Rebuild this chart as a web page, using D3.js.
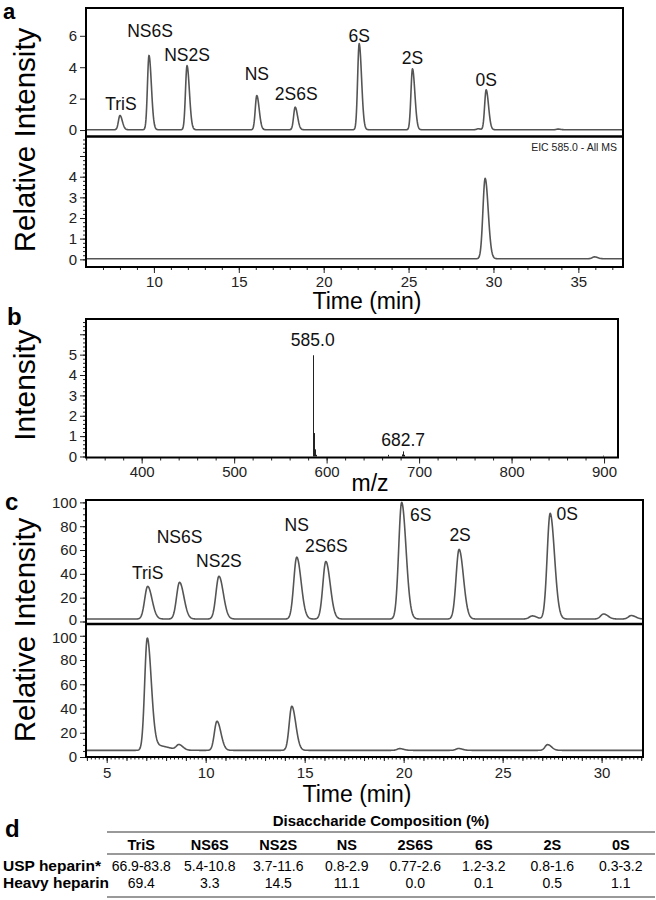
<!DOCTYPE html>
<html>
<head>
<meta charset="utf-8">
<script src="https://cdn.jsdelivr.net/npm/d3@7"></script>
<style>
  body { margin: 0; background: #fff; }
  svg { display: block; font-family: "Liberation Sans", Arial, sans-serif; }
  .axis path { display: none; }
  .axis line { stroke: #222; stroke-width: 1; }
  .axis text { font-size: 15px; fill: #222; }
  .trace { fill: none; stroke: #555; stroke-width: 1.6; stroke-linejoin: round; }
  .frame { fill: none; stroke: #000; stroke-width: 2; }
</style>
</head>
<body>
<svg id="chart" width="656" height="900"></svg>
<script>
// panel a, top: standard mix, peaks as [time (min), height]
var aStdPeaks = [[8.0, 0.93], [9.71, 4.75], [11.95, 4.1], [16.06, 2.2], [18.32, 1.46],
  [22.09, 5.5], [25.23, 3.9], [29.1, 0.08], [29.57, 2.56], [33.8, 0.06]];
var aStdNames = ['TriS', 'NS6S', 'NS2S', 'NS', '2S6S', '6S', '2S', '0S'];
var aStdNamed = [0, 1, 2, 3, 4, 5, 6, 8]; // which peak each name belongs to
// panel a, bottom: EIC 585.0
var aEicPeaks = [[29.51, 3.92], [35.95, 0.12]];

// panel b: mass spectrum, [m/z, intensity]
var bSpectrum = [[585.0, 4.97], [586.0, 1.15], [587.0, 0.35], [588.0, 0.08],
  [666.0, 0.08], [681.7, 0.1], [682.7, 0.25], [683.7, 0.08], [899.0, 0.04]];
var bLabels = [[585.0, '585.0'], [682.7, '682.7']];

// panel c, top: standard mix (relative intensity %)
var cStdPeaks = [[7.07, 29.5], [8.68, 32.9], [10.67, 38], [14.6, 54], [16.07, 50.4],
  [19.9, 100], [22.8, 60.6], [26.5, 4.7], [27.4, 90.8], [30.1, 6.3], [31.5, 5]];
var cStdNames = ['TriS', 'NS6S', 'NS2S', 'NS', '2S6S', '6S', '2S', '0S'];
var cStdNamed = [0, 1, 2, 3, 4, 5, 6, 8];
// panel c, bottom: heavy heparin
var cHeavyPeaks = [[7.05, 97.8], [7.5, 9.5, 0.2, 0.6], [8.65, 9.7], [10.57, 29.5],
  [14.35, 41.9], [19.8, 6.9], [22.77, 7], [27.27, 10.2]];

// panel d: disaccharide composition table
var compCategories = ['TriS', 'NS6S', 'NS2S', 'NS', '2S6S', '6S', '2S', '0S'];
var uspRange = ['66.9-83.8', '5.4-10.8', '3.7-11.6', '0.8-2.9', '0.77-2.6', '1.2-3.2', '0.8-1.6', '0.3-3.2'];
var heavyValues = [69.4, 3.3, 14.5, 11.1, 0.0, 0.1, 0.5, 1.1];

var svg = d3.select('#chart');

// build a chromatogram trace from a peak table (slightly tailing peaks)
function trace(peaks, base, sL, sR, t0, t1) {
  return d3.range(t0, t1, 0.02).map(function(t) {
    var v = base;
    peaks.forEach(function(p) {
      var s = t < p[0] ? (p[2] || sL) : (p[3] || sR);
      var d = (t - p[0]) / s;
      v += (p[1] - base) * Math.exp(-0.5 * d * d);
    });
    return [t, v];
  });
}

function drawTrace(data, x, y) {
  var line = d3.line().x(function(d) { return x(d[0]); }).y(function(d) { return y(d[1]); });
  svg.append('path').attr('class', 'trace').attr('d', line(data));
}

function axis(gen, tx, ty) {
  return svg.append('g').attr('class', 'axis').attr('transform', 'translate(' + tx + ',' + ty + ')').call(gen);
}

function blank() { return ''; }

function peakLabels(peaks, named, names, offsets, x, y) {
  svg.selectAll(null).data(names).enter().append('text')
    .attr('x', function(d, i) { return x(peaks[named[i]][0]) + offsets[i][0]; })
    .attr('y', function(d, i) { return y(peaks[named[i]][1]) + offsets[i][1]; })
    .attr('text-anchor', 'middle')
    .style('font-size', '17.5px')
    .attr('fill', '#111')
    .text(function(d) { return d; });
}

// ---------- panel a ----------
var xA = d3.scaleLinear().domain([6, 37.63]).range([86, 623]);
var yA1 = d3.scaleLinear().domain([-0.38, 7.77]).range([136, 8]);
var yA2 = d3.scaleLinear().domain([-0.37, 5.92]).range([267, 137]);

drawTrace(trace(aStdPeaks, 0.02, 0.09, 0.14, 6.05, 37.6), xA, yA1);
drawTrace(trace(aEicPeaks, 0.03, 0.13, 0.18, 6.05, 37.6), xA, yA2);

axis(d3.axisLeft(yA1).tickValues([0, 2, 4, 6]).tickSize(6).tickPadding(3), 86, 0);
axis(d3.axisLeft(yA2).tickValues(d3.range(0, 5.9, 0.2)).tickSize(3).tickFormat(blank), 86, 0);
axis(d3.axisLeft(yA2).tickValues([0, 1, 2, 3, 4, 5]).tickSize(6).tickPadding(3)
  .tickFormat(function(d) { return d < 5 ? d : ''; }), 86, 0);
axis(d3.axisBottom(xA).tickValues(d3.range(7, 38, 1)).tickSize(3).tickFormat(blank), 0, 267);
axis(d3.axisBottom(xA).tickValues([10, 15, 20, 25, 30, 35]).tickSize(6).tickPadding(3), 0, 267);

svg.append('rect').attr('class', 'frame').attr('x', 86).attr('y', 8).attr('width', 537).attr('height', 259);
svg.append('line').attr('x1', 86).attr('x2', 623).attr('y1', 136.5).attr('y2', 136.5)
  .attr('stroke', '#000').attr('stroke-width', 2.5);

var aOffsets = [[1, -5], [1, -18], [0, -5], [0, -15], [1, -7], [0, -2], [0, -5], [0, -4]];
peakLabels(aStdPeaks, aStdNamed, aStdNames, aOffsets, xA, yA1);

svg.append('text').attr('x', 617).attr('y', 151).attr('text-anchor', 'end')
  .style('font-size', '10.5px').attr('fill', '#222').text('EIC 585.0 - All MS');

svg.append('text').attr('transform', 'translate(35,140) rotate(-90)').attr('text-anchor', 'middle')
  .style('font-size', '29.5px').text('Relative Intensity');
svg.append('text').attr('x', 367).attr('y', 309).attr('text-anchor', 'middle')
  .style('font-size', '23px').text('Time (min)');

// ---------- panel b ----------
var xB = d3.scaleLinear().domain([339.8, 915.1]).range([86, 618]);
var yB = d3.scaleLinear().domain([-0.05, 6.75]).range([457.5, 319]);

svg.selectAll(null).data(bSpectrum).enter().append('line')
  .attr('x1', function(d) { return Math.round(xB(d[0])) + 0.5; })
  .attr('x2', function(d) { return Math.round(xB(d[0])) + 0.5; })
  .attr('y1', yB(0))
  .attr('y2', function(d) { return yB(d[1]); })
  .attr('stroke', '#222').attr('stroke-width', 1);

axis(d3.axisBottom(xB).tickValues(d3.range(340, 915, 20)).tickSize(3).tickFormat(blank), 0, 457.5);
axis(d3.axisBottom(xB).tickValues([400, 500, 600, 700, 800, 900]).tickSize(6).tickPadding(3), 0, 457.5);
axis(d3.axisLeft(yB).tickValues(d3.range(0, 6.7, 0.2)).tickSize(3).tickFormat(blank), 86, 0);
axis(d3.axisLeft(yB).tickValues([0, 1, 2, 3, 4, 5, 6]).tickSize(6).tickPadding(3)
  .tickFormat(function(d) { return d < 6 ? d : ''; }), 86, 0);

svg.append('rect').attr('class', 'frame').attr('x', 86).attr('y', 319).attr('width', 532).attr('height', 138.5);

var bLabelY = { '585.0': 346, '682.7': 446 };
svg.selectAll(null).data(bLabels).enter().append('text')
  .attr('x', function(d) { return xB(d[0]); })
  .attr('y', function(d) { return bLabelY[d[1]]; })
  .attr('text-anchor', 'middle').style('font-size', '17.5px').attr('fill', '#111')
  .text(function(d) { return d[1]; });

svg.append('text').attr('transform', 'translate(35,385) rotate(-90)').attr('text-anchor', 'middle')
  .style('font-size', '30px').text('Intensity');
svg.append('text').attr('x', 370).attr('y', 491).attr('text-anchor', 'middle')
  .style('font-size', '23px').text('m/z');

// ---------- panel c ----------
var xC = d3.scaleLinear().domain([3.955, 32.09]).range([86, 643]);
var yC1 = d3.scaleLinear().domain([-2.1, 102]).range([624, 500]);
var yC2 = d3.scaleLinear().domain([0, 109.7]).range([757, 624]);

drawTrace(trace(cStdPeaks, 2.1, 0.15, 0.22, 3.98, 32.07), xC, yC1);
drawTrace(trace(cHeavyPeaks, 5.5, 0.13, 0.2, 3.98, 32.07), xC, yC2);

[yC1, yC2].forEach(function(y, k) {
  axis(d3.axisLeft(y).tickValues(d3.range(0, 101, 5)).tickSize(3).tickFormat(blank), 86, 0);
  var g = axis(d3.axisLeft(y).tickValues([0, 20, 40, 60, 80, 100]).tickSize(6).tickPadding(3), 86, 0);
  // the top panel's 0 and the bottom panel's 100 nearly touch; squeeze them apart
  g.selectAll('text').filter(function(d) { return (k === 0 && d === 0) || (k === 1 && d === 100); })
    .attr('dy', k === 0 ? '0.2em' : '0.42em');
});
axis(d3.axisBottom(xC).tickValues(d3.range(4, 32.1, 0.2)).tickSize(2.5).tickFormat(blank), 0, 757);
axis(d3.axisBottom(xC).tickValues(d3.range(4, 33, 1)).tickSize(4).tickFormat(blank), 0, 757);
axis(d3.axisBottom(xC).tickValues([5, 10, 15, 20, 25, 30]).tickSize(6).tickPadding(4), 0, 757);

svg.append('rect').attr('class', 'frame').attr('x', 86).attr('y', 500).attr('width', 557).attr('height', 257);
svg.append('line').attr('x1', 86).attr('x2', 643).attr('y1', 624).attr('y2', 624)
  .attr('stroke', '#000').attr('stroke-width', 2.5);

var cOffsets = [[0, -7], [0, -39], [0, -9], [0, -26], [0.5, -9], [19, 19], [1, -8], [17, 7]];
peakLabels(cStdPeaks, cStdNamed, cStdNames, cOffsets, xC, yC1);

svg.append('text').attr('transform', 'translate(35,630) rotate(-90)').attr('text-anchor', 'middle')
  .style('font-size', '29.5px').text('Relative Intensity');
svg.append('text').attr('x', 357).attr('y', 802).attr('text-anchor', 'middle')
  .style('font-size', '23px').text('Time (min)');

// ---------- panel d: table ----------
var col = d3.scaleBand().domain(compCategories).range([107, 655]);
var cx = function(d) { return col(d) + col.bandwidth() / 2; };

svg.append('text').attr('x', 381).attr('y', 826).attr('text-anchor', 'middle')
  .style('font-size', '15px').style('font-weight', 'bold').text('Disaccharide Composition (%)');

[832, 854, 897].forEach(function(y) {
  svg.append('line').attr('x1', 107).attr('x2', 655).attr('y1', y).attr('y2', y)
    .attr('stroke', '#999').attr('stroke-width', 2);
});

svg.selectAll(null).data(compCategories).enter().append('text')
  .attr('x', cx).attr('y', 850).attr('text-anchor', 'middle')
  .style('font-size', '14.5px').style('font-weight', 'bold').text(function(d) { return d; });

svg.selectAll(null).data(uspRange).enter().append('text')
  .attr('x', function(d, i) { return cx(compCategories[i]); }).attr('y', 871).attr('text-anchor', 'middle')
  .style('font-size', '14px').text(function(d) { return d; });

svg.selectAll(null).data(heavyValues).enter().append('text')
  .attr('x', function(d, i) { return cx(compCategories[i]); }).attr('y', 888).attr('text-anchor', 'middle')
  .style('font-size', '14px').text(function(d) { return d.toFixed(1); });

svg.append('text').attr('x', 3).attr('y', 871).style('font-size', '15.5px').style('font-weight', 'bold').text('USP heparin*');
svg.append('text').attr('x', 3).attr('y', 888).style('font-size', '15.5px').style('font-weight', 'bold').text('Heavy heparin');

// panel letters
[['a', 3, 19, 22], ['b', 7, 325, 24], ['c', 5, 510, 24], ['d', 5, 837, 24]].forEach(function(p) {
  svg.append('text').attr('x', p[1]).attr('y', p[2])
    .style('font-size', p[3] + 'px').style('font-weight', 'bold').text(p[0]);
});
</script>
</body>
</html>
